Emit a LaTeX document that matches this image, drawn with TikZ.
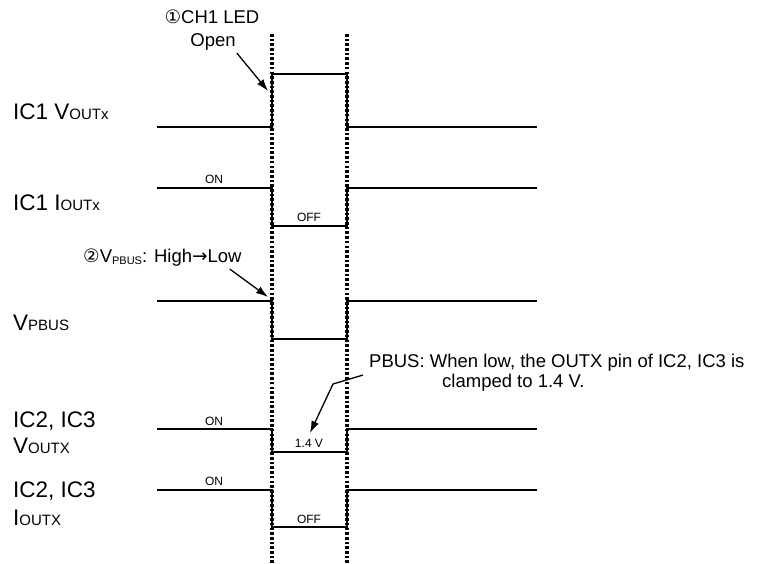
\documentclass[tikz,border=0pt]{standalone}
\usepackage{fontspec}
\setmainfont{Liberation Sans}
\newfontfamily\circfont{DejaVu Sans}
\usetikzlibrary{arrows.meta,positioning}
\newcommand{\smalltag}[1]{{\fontsize{15}{15}\selectfont #1}}

\begin{document}
\begin{tikzpicture}[x=1pt,y=-1pt,
    >={Latex[length=12pt,width=8pt]},
    sig/.style={line width=1.3pt},
    dotline/.style={line width=3.2pt,dash pattern=on 2.6pt off 2.1pt},
    lbl/.style={anchor=base west,inner sep=0pt,font=\fontsize{22.5}{26}\selectfont},
    val/.style={anchor=base,inner sep=0pt,font=\fontsize{12}{14}\selectfont},
    note/.style={inner sep=0pt,font=\fontsize{18.5}{21}\selectfont}]
  \useasboundingbox (0,0) rectangle (757,564);
  % signal names
  \node[lbl] (vout1) at (13,120) {IC1 V\smalltag{OUTx}};
  \node[lbl] (iout1) at (13,210) {IC1 I\smalltag{OUTx}};
  \node[lbl] (vpbus) at (13,330) {V\smalltag{PBUS}};
  \node[lbl] (ic23a) at (13,427) {IC2, IC3};
  \node[lbl] (vout23) at (13,453) {V\smalltag{OUTX}};
  \node[lbl] (ic23b) at (13,497) {IC2, IC3};
  \node[lbl] (iout23) at (13,525) {I\smalltag{OUTX}};
  % waveforms
  \draw [sig] (157,127) -- (272,127) -- (272,74) -- (347,74) -- (347,127) -- (537,127);
  \draw [sig] (157,188) -- (272,188) -- (272,226) -- (347,226) -- (347,188) -- (537,188);
  \draw [sig] (157,301) -- (272,301) -- (272,339) -- (347,339) -- (347,301) -- (537,301);
  \draw [sig] (157,429) -- (272,429) -- (272,452) -- (347,452) -- (347,429) -- (537,429);
  \draw [sig] (157,490) -- (272,490) -- (272,527) -- (347,527) -- (347,490) -- (537,490);
  \draw [dotline] (272,34) -- (272,566);
  \draw [dotline] (347,34) -- (347,566);
  % levels
  \node[val] (on1) at (214,183) {ON};
  \node[val] (off1) at (309,221) {OFF};
  \node[val] (on2) at (214,425) {ON};
  \node[val] (clampv) at (309,447) {1.4 V};
  \node[val] (on3) at (214,485) {ON};
  \node[val] (off3) at (309,523) {OFF};
  % notes
  \node[note,anchor=base] (led) at (212,24) {{\circfont ①}CH1 LED};
  \node[note,anchor=base] (open) at (213,47) {Open};
  \node[note,anchor=base west] (hilo) at (83,262) {{\circfont ②}V\raisebox{-2pt}{\fontsize{11}{11}\selectfont PBUS}: High{\circfont →}Low};
  \node[note,anchor=base west] (pbus) at (369,367) {PBUS: When low, the OUTX pin of IC2, IC3 is};
  \node[note,anchor=base west] (clamp) at (442,387) {clamped to 1.4 V.};
  \coordinate (tipA) at (268,91);
  \coordinate (tipB) at (268,297);
  \coordinate (bend) at (333,384);
  \coordinate (tipC) at (310,433);
  \draw [sig] [->] ([xshift=1pt,yshift=-2pt]open.south east) -- (tipA);
  \draw [sig] [->] ([xshift=-12pt,yshift=-3pt]hilo.south east) -- (tipB);
  \draw [sig] [->] ([xshift=-6pt,yshift=-4pt]pbus.south west) -- (bend) -- (tipC);
\end{tikzpicture}
\end{document}
